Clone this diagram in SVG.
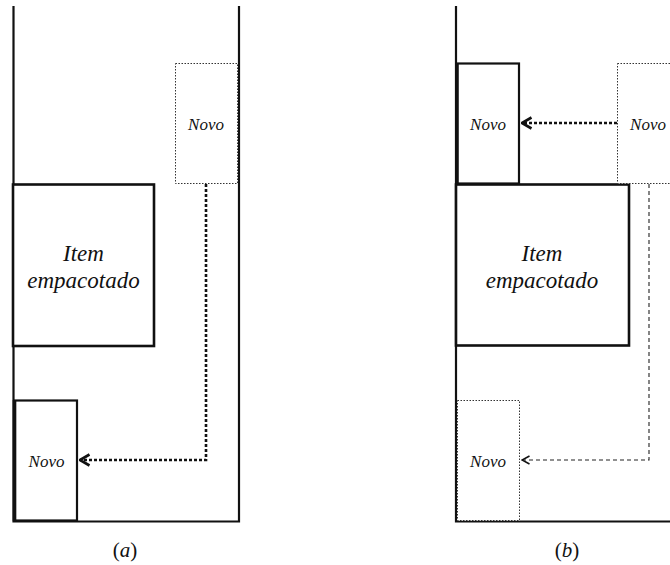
<svg xmlns="http://www.w3.org/2000/svg" width="670" height="565" viewBox="0 0 670 565">
  <defs>
    <style>
      .wall { fill: none; stroke: #111; stroke-width: 2.2; }
      .item { fill: #fff; stroke: #111; stroke-width: 2.6; }
      .box { fill: #fff; stroke: #111; stroke-width: 2.2; }
      .ghost { fill: #fff; stroke: #333; stroke-width: 1; stroke-dasharray: 1.5 1.5; }
      .move { fill: none; stroke: #111; stroke-width: 2.6; stroke-dasharray: 3 2; }
      .trace { fill: none; stroke: #222; stroke-width: 1.1; stroke-dasharray: 4 3; }
      .lbl { font-family: "Liberation Serif", "DejaVu Serif", serif; font-style: italic; fill: #111; text-anchor: middle; }
      .cap { font-family: "Liberation Serif", "DejaVu Serif", serif; fill: #111; text-anchor: middle; font-size: 21px; }
    </style>
    <!-- open chevron heads; tip sits at the end of the path -->
    <marker id="openHead" viewBox="0 0 12 14" refX="10.5" refY="7" markerWidth="12" markerHeight="14" markerUnits="userSpaceOnUse" orient="auto">
      <path d="M1,1.5 L10.5,7 L1,12.5" fill="none" stroke="#111" stroke-width="2.6"/>
    </marker>
    <marker id="openHeadThin" viewBox="0 0 10 12" refX="9" refY="6" markerWidth="10" markerHeight="12" markerUnits="userSpaceOnUse" orient="auto">
      <path d="M1.5,2 L9,6 L1.5,10" fill="none" stroke="#111" stroke-width="1.6"/>
    </marker>
  </defs>

  <!-- panel (a) -->
  <g id="container-a">
    <path class="wall" d="M13.5,6 V521.5 H239 V6"/>
  </g>
  <g id="item-a">
    <rect class="item" x="13" y="184.5" width="141" height="161.5"/>
    <text class="lbl" font-size="23" x="83.5" y="261">Item</text>
    <text class="lbl" font-size="23" x="83.5" y="288">empacotado</text>
  </g>
  <g id="novo-start-a">
    <rect class="ghost" x="175.5" y="63.5" width="62" height="120"/>
    <text class="lbl" font-size="17" x="206" y="130">Novo</text>
  </g>
  <g id="novo-end-a">
    <rect class="box" x="15" y="400.5" width="62" height="120"/>
    <line x1="14.5" y1="400" x2="14.5" y2="521" stroke="#111" stroke-width="3.5"/>
    <text class="lbl" font-size="17" x="46.5" y="467">Novo</text>
  </g>

  <!-- panel (b) -->
  <g id="container-b">
    <path class="wall" d="M456,6 V521.5 H672"/>
  </g>
  <g id="item-b">
    <rect class="item" x="456" y="184.5" width="173" height="161"/>
    <text class="lbl" font-size="23" x="542" y="261">Item</text>
    <text class="lbl" font-size="23" x="542" y="288">empacotado</text>
  </g>
  <g id="novo-start-b">
    <rect class="ghost" x="617.5" y="63.5" width="62" height="120"/>
    <text class="lbl" font-size="17" x="648" y="130">Novo</text>
  </g>
  <g id="novo-end-b">
    <rect class="box" x="457" y="63.5" width="62" height="120"/>
    <line x1="457" y1="63" x2="457" y2="184" stroke="#111" stroke-width="3.5"/>
    <text class="lbl" font-size="17" x="488" y="130">Novo</text>
  </g>
  <g id="novo-alt-b">
    <rect class="ghost" x="457.5" y="400.5" width="62" height="120"/>
    <text class="lbl" font-size="17" x="488" y="467">Novo</text>
  </g>

  <!-- connectors -->
  <g id="connectors">
    <path class="move" d="M206,184 V460 H80" marker-end="url(#openHead)"/>
    <path class="move" d="M617,123 H522" marker-end="url(#openHead)"/>
    <path class="trace" d="M649,184 V460 H522" marker-end="url(#openHeadThin)"/>
  </g>

  <!-- captions -->
  <text class="cap" x="125" y="557">(<tspan font-style="italic">a</tspan>)</text>
  <text class="cap" x="567" y="557">(<tspan font-style="italic">b</tspan>)</text>
</svg>
